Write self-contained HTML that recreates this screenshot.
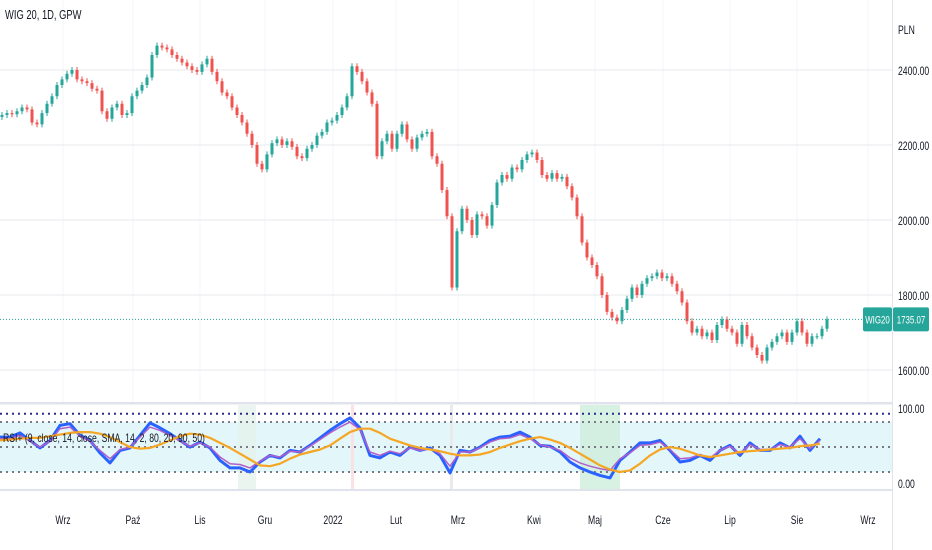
<!DOCTYPE html>
<html><head><meta charset="utf-8">
<style>
html,body{margin:0;padding:0;background:#fff;width:932px;height:550px;overflow:hidden}
svg{display:block;font-family:"Liberation Sans Narrow","Liberation Sans",sans-serif}
</style></head>
<body>
<svg id="chart" width="932" height="550" viewBox="0 0 932 550">
<g id="grid"></g>
<g id="rsiPane"></g>
<g id="candles"></g>
<g id="axes"></g>
</svg>
<script>
const closes=[2280,2285,2282,2290,2300,2295,2260,2255,2285,2310,2330,2360,2375,2390,2400,2375,2370,2365,2350,2345,2290,2270,2300,2310,2280,2285,2330,2345,2360,2380,2440,2465,2460,2455,2440,2430,2420,2410,2400,2395,2415,2430,2395,2370,2340,2330,2300,2280,2260,2230,2200,2150,2135,2175,2205,2215,2200,2210,2195,2170,2165,2190,2200,2225,2235,2260,2265,2280,2300,2330,2410,2395,2370,2340,2310,2170,2210,2230,2190,2230,2255,2215,2190,2220,2230,2235,2170,2150,2080,2010,1820,1970,2030,2000,1960,2015,2010,1985,2040,2100,2120,2110,2140,2135,2160,2175,2180,2160,2120,2110,2125,2110,2115,2090,2060,2010,1940,1900,1880,1850,1800,1755,1740,1730,1760,1790,1820,1800,1830,1845,1850,1860,1845,1850,1830,1810,1780,1730,1700,1710,1690,1700,1680,1720,1735,1710,1700,1670,1720,1690,1660,1640,1625,1660,1675,1690,1700,1675,1700,1730,1700,1670,1690,1690,1710,1735];
const rsiBlue=[62,62,67,58,49,58,76,78,64,58,43,31,46,49,64,79,73,66,58,50,56,49,34,25,25,20,32,40,37,46,44,52,61,70,78,85,73,40,37,44,40,50,46,49,40,19,46,44,50,58,62,63,68,62,52,51,44,32,25,20,16,13,34,44,55,55,58,46,32,34,40,34,46,52,40,55,46,46,55,49,63,46,60];
const rsiPurple=[60,60,64,57,50,57,72,74,63,57,46,36,47,50,62,74,70,64,57,51,55,50,38,30,29,25,33,40,38,45,44,51,59,67,74,80,71,44,40,45,42,49,46,48,42,27,44,44,49,56,60,61,65,60,53,50,46,37,31,27,24,22,36,43,52,53,56,47,36,37,41,37,46,51,42,53,47,47,53,50,60,48,58];
const rsiSma=[58,59,60,61,61,63,65,67,68,68,66,62,56,50,48,49,53,58,63,66,65,61,55,49,42,35,28,27,30,36,41,44,47,52,60,68,72,72,67,60,56,52,49,47,45,42,40,40,41,44,49,53,57,60,62,59,55,49,42,35,28,23,20,22,30,40,47,50,48,44,40,38,40,42,44,45,46,47,48,49,51,52,54];
const priceTicks=[2400,2200,2000,1800,1600];
const priceTickLabels=["2400.00","2200.00","2000.00","1800.00","1600.00"];
const monthLabels=["Wrz","Paź","Lis","Gru","2022","Lut","Mrz","Kwi","Maj","Cze","Lip","Sie","Wrz"];
const monthIdx=[12.2,26.2,39.6,52.6,66.2,78.8,91.2,106.4,118.6,132.2,145.6,159,173.2];
const rsiLevels=[90,80,50,20];

const NS="http://www.w3.org/2000/svg";
function mk(tag,attrs,parent,text){const e=document.createElementNS(NS,tag);for(const k in attrs)e.setAttribute(k,attrs[k]);if(text!==undefined)e.textContent=text;parent.appendChild(e);return e;}
const xOf=i=>2+i*5;
const yP=p=>70+(2400-p)*0.375;
const yR=v=>488.7-v*0.833;
const xR=i=>i*10;
const grid=document.getElementById('grid'),pane=document.getElementById('rsiPane'),cg=document.getElementById('candles'),ax=document.getElementById('axes');

monthIdx.forEach((m,i)=>{const x=xOf(m);
 const l=mk('line',{x1:x,x2:x,y1:0,y2:403,stroke:'#f3f5f9','stroke-width':1},grid);
 
 const t=mk('text',{x:x,y:524,'text-anchor':'middle','font-size':12,fill:'#131722'},ax,monthLabels[i]);
 
});
priceTicks.forEach((p,i)=>{const y=yP(p);
 const l=mk('line',{x1:0,x2:892,y1:y,y2:y,stroke:'#eef0f4','stroke-width':1.5},grid);
 
 const t=mk('text',{x:898,y:y+5,'font-size':12,fill:'#131722'},ax,priceTickLabels[i]);
 
});
let s=mk('rect',{x:0,y:402,width:892,height:2.5,fill:'#e0e3eb'},ax);
s=mk('rect',{x:0,y:489,width:892,height:2,fill:'#e0e3eb'},ax);
s=mk('line',{x1:892.5,x2:892.5,y1:0,y2:550,stroke:'#e0e3eb','stroke-width':1},ax);
s=mk('text',{x:898,y:34,'font-size':12,fill:'#131722'},ax,'PLN');
s=mk('text',{x:5,y:19,'font-size':13,fill:'#131722'},ax,'WIG 20, 1D, GPW');

s=mk('rect',{x:0,y:yR(80),width:892,height:yR(20)-yR(80),fill:'#e3f6fa'},pane);
s=mk('rect',{x:580,y:405,width:40,height:84,fill:'#cdeedb',opacity:0.8},pane);
s=mk('rect',{x:238,y:405,width:18,height:84,fill:'#e3f3ea',opacity:0.8},pane);
s=mk('rect',{x:351,y:405,width:3,height:84,fill:'#f9e1e4'},pane);
s=mk('rect',{x:450,y:405,width:3,height:84,fill:'#eaeaea'},pane);
rsiLevels.forEach((v,i)=>{const y=yR(v);
 const l=mk('line',{x1:0,x2:892,y1:y,y2:y,stroke:i===0?'#2a2a8c':'#787b86','stroke-width':2,'stroke-dasharray':'2 4'},pane);
 
});
function line(arr,color,w,name){const d=arr.map((v,i)=>(i?'L':'M')+xR(i)+' '+yR(v).toFixed(1)).join(' ');
 const p=mk('path',{d:d,fill:'none',stroke:color,'stroke-width':w,'stroke-linejoin':'round'},pane);
 }
line(rsiBlue,'#2962ff',3,'rsi-line');
line(rsiPurple,'#b25fc8',1.5,'rsi-fast-line');
line(rsiSma,'#f5a623',2.2,'rsi-sma-line');
s=mk('text',{x:3,y:442,'font-size':12,fill:'#131722'},pane,'RSI+ (9, close, 14, close, SMA, 14, 2, 80, 20, 90, 50)');
s=mk('text',{x:898,y:413,'font-size':12,fill:'#131722'},ax,'100.00');
s=mk('text',{x:898,y:488,'font-size':12,fill:'#131722'},ax,'0.00');

closes.forEach((c,i)=>{const o=i?closes[i-1]:c-5;const up=c>=o;const col=up?'#26a69a':'#ef5350';
 const hi=Math.max(o,c)+8,lo=Math.min(o,c)-8;const x=xOf(i);
 const g=mk('g',{},cg);
 mk('line',{x1:x,x2:x,y1:yP(hi),y2:yP(lo),stroke:col,'stroke-width':1},g);
 const y1=yP(Math.max(o,c)),y2=yP(Math.min(o,c));
 mk('rect',{x:x-1.5,y:y1,width:3,height:Math.max(1,y2-y1),fill:col},g);
});
const last=1735.07,ly=yP(last);
s=mk('line',{x1:0,x2:892,y1:ly,y2:ly,stroke:'#26a69a','stroke-width':1,'stroke-dasharray':'1 2'},ax);
s=mk('rect',{x:863,y:ly-12,width:29,height:24,fill:'#26a69a',rx:2},ax);
s=mk('text',{x:877.5,y:ly+4,'font-size':11,fill:'#fff','text-anchor':'middle'},ax,'WIG20');
s=mk('rect',{x:893,y:ly-12,width:36,height:24,fill:'#26a69a',rx:2},ax);
s=mk('text',{x:911,y:ly+4,'font-size':11,fill:'#fff','text-anchor':'middle'},ax,'1735.07');

// condense all text to mimic narrow font
document.querySelectorAll('#chart text').forEach(t=>{
 const w=t.getComputedTextLength();
 if(w>0){t.setAttribute('textLength',(w*0.72).toFixed(1));t.setAttribute('lengthAdjust','spacingAndGlyphs');}
});
</script>
</body></html>
